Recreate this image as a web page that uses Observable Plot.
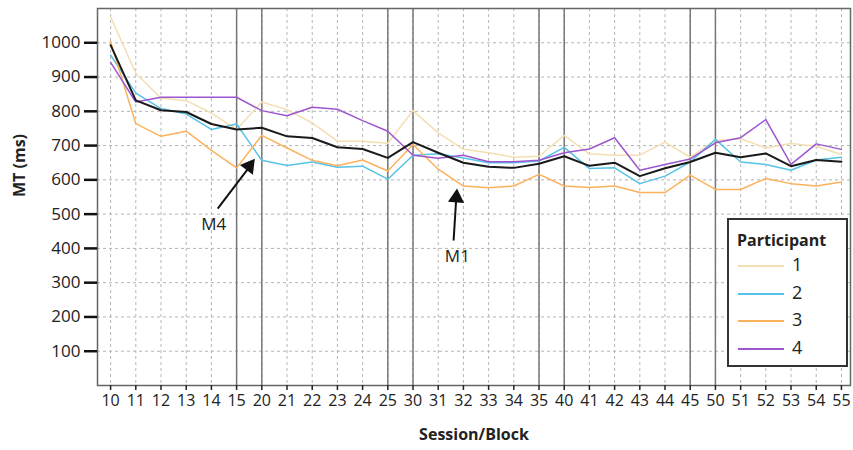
<!DOCTYPE html>
<html><head><meta charset="utf-8">
<script src="https://cdn.jsdelivr.net/npm/d3@7"></script>
<script src="https://cdn.jsdelivr.net/npm/@observablehq/plot@0.6"></script>
<style>
body{margin:0;background:#fff;font-family:"Open Sans",sans-serif}
#wrap{position:relative;width:853px;height:450px}
#legend{position:absolute;left:727px;top:218px;width:117px;height:145px;border:2px solid #333;background:#fff;color:#222}
#legend .t{position:absolute;left:8px;top:9px;font-weight:bold;font-size:16px}
#legend .e{position:absolute;left:9px;height:20px;font-size:18px;line-height:20px}
#legend .e span{display:inline-block;width:46px;height:2px;vertical-align:middle;margin-right:8px}
</style></head><body><div id="wrap"></div>
<script>
const labels = ["10","11","12","13","14","15","20","21","22","23","24","25","30","31","32","33","34","35","40","41","42","43","44","45","50","51","52","53","54","55"];
const participants = ["1","2","3","4"];
const colors = ["#f3dfb2","#56c3e8","#fcb25c","#9c57cf"];
const p1 = [1076,911,838,831,795,747, 827,805,766,713,713,707, 802,737,689,679,666,669, 730,676,672,672,710,666, 715,720,693,706,698,674];
const p2 = [964,853,808,792,747,763, 657,642,652,637,640,602, 672,676,664,650,650,655, 695,633,635,589,611,652, 718,652,645,628,658,666];
const p3 = [1003,764,727,742,686,635, 730,693,657,641,658,626, 703,631,582,577,582,616, 582,578,582,563,563,614, 572,572,604,589,582,594];
const p4 = [943,827,841,841,841,841, 802,787,812,806,773,742, 672,663,672,653,653,657, 679,690,723,628,645,661, 708,723,776,645,705,689];
const meanMT = [993,832,803,798,763,747, 752,727,722,695,690,664, 710,679,650,638,635,647, 669,641,650,611,634,652, 679,666,677,640,658,653];
const yTicks = [100,200,300,400,500,600,700,800,900,1000];
const sessionBreaks = ["15","20","25","30","35","40","45","50"];
// annotation: label position, arrow tail, arrow head centre, head rotation
const annotations = [
  {label:"M4", tx:4.09, ty:470, x1:4.25, y1:516, x2:5.45, y2:632, hx:5.5, hy:640, rot:37},
  {label:"M1", tx:13.76, ty:376, x1:13.61, y1:423, x2:13.71, y2:540, hx:13.72, hy:548, rot:4}
];

const idx = labels.map((d,i)=>i);
const series = [p1,p2,p3,p4];
const rows = [];
series.forEach((s,k)=>s.forEach((v,i)=>rows.push({i, v, p:participants[k]})));
const meanRows = meanMT.map((v,i)=>({i,v}));

const chart = Plot.plot({
  width:853, height:450,
  marginLeft:97, marginRight:3, marginTop:8, marginBottom:65,
  style:{fontFamily:"Open Sans, sans-serif", color:"#222", background:"#fff"},
  x:{type:"linear", domain:[-0.52,29.36]},
  y:{domain:[0,1100]},
  color:{domain:participants, range:colors},
  marks:[
    Plot.gridX(idx, {stroke:"#b5b5b5", strokeOpacity:1, strokeDasharray:"3,3"}),
    Plot.gridY(yTicks, {stroke:"#b5b5b5", strokeOpacity:1, strokeDasharray:"3,3"}),
    Plot.ruleX(sessionBreaks.map(l=>labels.indexOf(l)), {stroke:"#777", strokeWidth:1.5}),
    Plot.line(rows, {x:"i", y:"v", z:"p", stroke:"p", strokeWidth:1.5}),
    Plot.line(meanRows, {x:"i", y:"v", stroke:"#1a1a1a", strokeWidth:2}),
    Plot.frame({stroke:"#666", strokeWidth:1.5}),
    Plot.link(annotations, {x1:"x1", y1:"y1", x2:"x2", y2:"y2", stroke:"#111", strokeWidth:2}),
    Plot.dot(annotations, {x:"hx", y:"hy", symbol:"triangle", r:6, fill:"#111", stroke:"none", rotate:"rot"}),
    Plot.text(annotations, {x:"tx", y:"ty", text:"label", fontSize:17, fill:"#222"}),
    Plot.axisY({ticks:yTicks, tickFormat:"d", tickSize:13, tickPadding:4, strokeWidth:2.5, stroke:"#111", fontSize:17, label:null}),
    Plot.axisX({ticks:idx, tickFormat:i=>labels[i], tickSize:5, tickPadding:4, strokeWidth:1.5, fontSize:16, label:null}),
    Plot.text(["MT (ms)"], {frameAnchor:"left", dx:-78, rotate:-90, fontWeight:"bold", fontSize:16, fill:"#222"}),
    Plot.text(["Session/Block"], {frameAnchor:"bottom", dy:54, fontWeight:"bold", fontSize:16, fill:"#222"})
  ]
});
const wrap = document.getElementById("wrap");
wrap.appendChild(chart);
const leg = document.createElement("div");
leg.id = "legend";
let html = '<div class="t">Participant</div>';
participants.forEach((p,k)=>{
  html += `<div class="e" style="top:${34+k*27.5}px"><span style="background:${colors[k]}"></span>${p}</div>`;
});
leg.innerHTML = html;
wrap.appendChild(leg);
</script>
</body></html>
